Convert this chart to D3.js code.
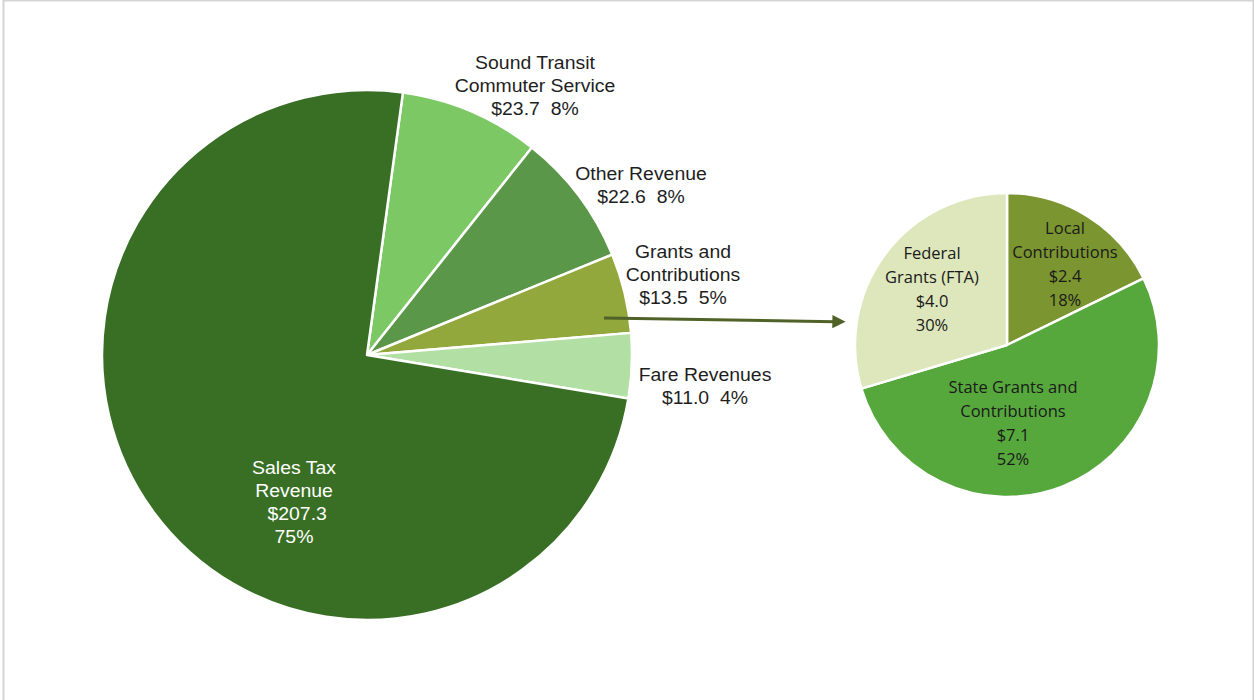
<!DOCTYPE html>
<html>
<head>
<meta charset="utf-8">
<script src="https://cdn.jsdelivr.net/npm/d3@7"></script>
<style>
  html, body { margin: 0; padding: 0; background: #fff; }
  svg { display: block; }
</style>
</head>
<body>
<svg id="chart" width="1254" height="700"></svg>
<script>
// Revenue sources ($ millions)
const revenueNames = ["Sound Transit\nCommuter Service", "Other Revenue", "Grants and\nContributions", "Fare Revenues", "Sales Tax\nRevenue"];
const revenueValues = [23.7, 22.6, 13.5, 11.0, 207.3];
const revenuePercents = ["8%", "8%", "5%", "4%", "75%"];
const revenueColors = ["#7bc865", "#5b9748", "#92a83c", "#b2e0a4", "#386f25"];

// Breakdown of Grants and Contributions ($ millions)
const grantNames = ["Local\nContributions", "State Grants and\nContributions", "Federal\nGrants (FTA)"];
const grantValues = [2.4, 7.1, 4.0];
const grantPercents = ["18%", "52%", "30%"];
const grantColors = ["#7b9530", "#56a83d", "#dde7bb"];

const svg = d3.select("#chart");

// frame
svg.append("rect")
  .attr("x", 3.5).attr("y", 0.5)
  .attr("width", 1250).attr("height", 720)
  .attr("fill", "none").attr("stroke", "#d4d4d4").attr("stroke-width", 2);

const deg = Math.PI / 180;

// ---- main pie ----
const main = { cx: 367, cy: 355, r: 265 };
const mainPie = d3.pie().sort(null).value(d => d)
  .startAngle(7.8 * deg).endAngle(367.8 * deg);
const mainArcs = mainPie(revenueValues);
const mainArc = d3.arc().innerRadius(0).outerRadius(main.r);

const gMain = svg.append("g").attr("transform", `translate(${main.cx},${main.cy})`);
gMain.selectAll("path").data(mainArcs).join("path")
  .attr("d", mainArc)
  .attr("fill", (d, i) => revenueColors[i])
  .attr("stroke", "#fff").attr("stroke-width", 2.5)
  .attr("stroke-linejoin", "round");

// label anchor points (absolute)
const mainLabelPos = [[535, 63], [641, 174], [683, 252], [705, 375], [294, 468]];
const mainLabelColor = ["#1e1e1e", "#1e1e1e", "#1e1e1e", "#1e1e1e", "#ffffff"];
revenueNames.forEach((name, i) => {
  const lines = name.split("\n");
  lines.push(i === 4 ? "$" + revenueValues[i].toFixed(1) : "$" + revenueValues[i].toFixed(1) + "\u00a0\u00a0" + revenuePercents[i]);
  if (i === 4) lines.push(revenuePercents[i]);
  const t = svg.append("text")
    .attr("font-family", "'Liberation Sans', Arial, sans-serif")
    .attr("font-size", 18.5)
    .attr("fill", mainLabelColor[i])
    .attr("text-anchor", "middle")
    .attr("transform", `translate(${mainLabelPos[i][0]},0) scale(1.05,1) translate(${-mainLabelPos[i][0]},0)`);
  lines.forEach((ln, j) => {
    t.append("tspan")
      .attr("x", mainLabelPos[i][0] + (i === 4 && j === 2 ? 3 : 0))
      .attr("y", mainLabelPos[i][1] + j * 22.7)
      .attr("dy", "0.35em")
      .text(ln);
  });
});

// ---- arrow ----
svg.append("defs").append("marker")
  .attr("id", "arrowHead")
  .attr("viewBox", "0 0 10 10")
  .attr("refX", 2).attr("refY", 5)
  .attr("markerWidth", 4.4).attr("markerHeight", 4.4)
  .attr("orient", "auto")
  .attr("markerUnits", "strokeWidth")
  .append("path").attr("d", "M0,0 L10,5 L0,10 Z").attr("fill", "#4f6228");

svg.append("line")
  .attr("x1", 604).attr("y1", 318)
  .attr("x2", 835).attr("y2", 321.7)
  .attr("stroke", "#4f6228").attr("stroke-width", 3)
  .attr("marker-end", "url(#arrowHead)");

// ---- breakdown pie ----
const sub = { cx: 1007, cy: 345, r: 152 };
const subPie = d3.pie().sort(null).value(d => d);
const subArcs = subPie(grantValues);
const subArc = d3.arc().innerRadius(0).outerRadius(sub.r);

const gSub = svg.append("g").attr("transform", `translate(${sub.cx},${sub.cy})`);
gSub.selectAll("path").data(subArcs).join("path")
  .attr("d", subArc)
  .attr("fill", (d, i) => grantColors[i])
  .attr("stroke", "#fff").attr("stroke-width", 2.5)
  .attr("stroke-linejoin", "round");

const subLabelPos = [[1065, 228], [1013, 387], [932, 253]];
grantNames.forEach((name, i) => {
  const lines = name.split("\n");
  lines.push("$" + grantValues[i].toFixed(1));
  lines.push(grantPercents[i]);
  const t = svg.append("text")
    .attr("font-family", "'Open Sans', Lato, sans-serif")
    .attr("font-size", 16.5)
    .attr("fill", "#1a1a1a")
    .attr("text-anchor", "middle");
  lines.forEach((ln, j) => {
    t.append("tspan")
      .attr("x", subLabelPos[i][0])
      .attr("y", subLabelPos[i][1] + j * 24.2)
      .attr("dy", "0.35em")
      .text(ln);
  });
});
</script>
</body>
</html>
